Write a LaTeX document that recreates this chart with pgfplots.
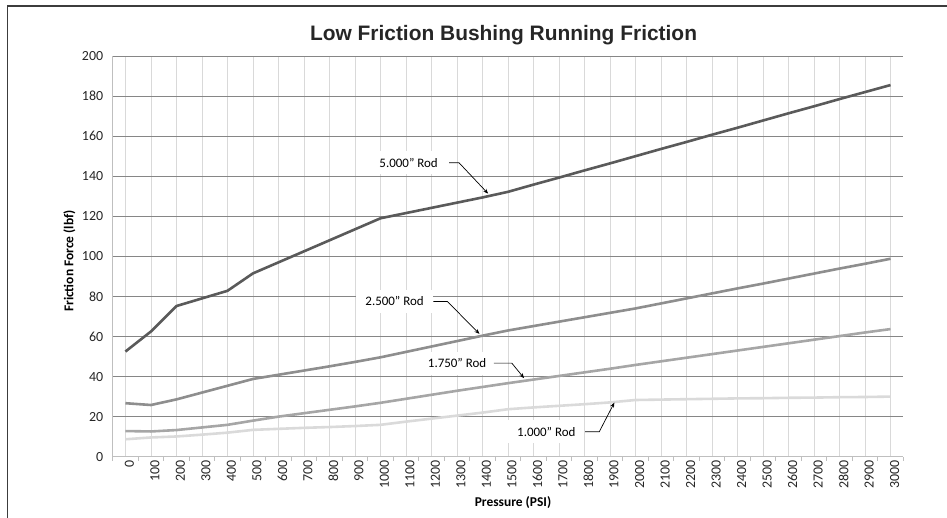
\documentclass[border=0pt]{standalone}
\usepackage{pgfplots}
\pgfplotsset{compat=1.18}
\usetikzlibrary{arrows.meta}
\usepackage{fontspec}
\setmainfont{Carlito}
\newfontfamily\arialfont{Liberation Sans}

\definecolor{rodA}{HTML}{5A5A5A}
\definecolor{rodB}{HTML}{8E8E8E}
\definecolor{rodC}{HTML}{A6A6A6}
\definecolor{rodD}{HTML}{DADADA}
\definecolor{hgrid}{HTML}{868686}
\definecolor{vgrid}{HTML}{D9D9D9}
\definecolor{axline}{HTML}{BFBFBF}
\definecolor{frame}{HTML}{3C3C3C}

\begin{document}
\begin{tikzpicture}
\path[use as bounding box] (0,0) rectangle (947bp,518bp);
\draw[frame, line width=1.5bp] (7.3bp,0) -- (7.3bp,512bp) -- (947bp,512bp);

\node[anchor=base, font=\arialfont\bfseries\fontsize{21}{21}\selectfont, text=black!85]
  at (503.5bp,477.3bp) {Low Friction Bushing Running Friction};
\node[anchor=base, rotate=90, font=\bfseries\fontsize{13.5}{13.5}\selectfont]
  at (73.3bp,257bp) {Friction Force (lbf)};
\node[anchor=base, font=\bfseries\fontsize{13.5}{13.5}\selectfont]
  at (513bp,12bp) {Pressure (PSI)};

\coordinate (O) at (112.7bp,61.3bp);
\begin{axis}[
  at={(O)}, anchor=south west,
  scale only axis, width=790.6bp, height=400.7bp,
  xmin=-50, xmax=3050, ymin=0, ymax=200,
  axis x line*=bottom, axis y line*=left,
  axis line style={axline, line width=0.8bp, -},
  xtick={0,100,...,3000},
  minor xtick={-50,50,...,3050},
  ytick={0,20,...,200},
  major tick length=0pt, minor tick length=4bp,
  tick align=outside,
  minor tick style={axline, line width=0.8bp},
  xmajorgrids, ymajorgrids,
  x grid style={vgrid, line width=0.9bp},
  y grid style={hgrid, line width=0.9bp},
  /pgf/number format/assume math mode=true,
  /pgf/number format/set thousands separator={},
  tick label style={font=\fontsize{14}{14}\selectfont, text=black!85},
  xticklabel style={rotate=90, anchor=east, yshift=-4bp},
  yticklabel style={xshift=-6bp},
  clip=false,
]
% white label boxes
\node[fill=white, anchor=west, inner xsep=9bp, inner ysep=7bp, font=\fontsize{13}{13}\selectfont]
  at (axis cs:960,146.7) {5.000" Rod\hspace{14bp}};
\node[fill=white, anchor=west, inner xsep=9bp, inner ysep=7bp, font=\fontsize{13}{13}\selectfont]
  at (axis cs:905,77.5) {2.500" Rod\hspace{18bp}};
\node[fill=white, anchor=west, inner xsep=9bp, inner ysep=7bp, font=\fontsize{13}{13}\selectfont]
  at (axis cs:1150,46.7) {1.750" Rod\hspace{10bp}};
\node[fill=white, anchor=west, inner xsep=9bp, inner ysep=7bp, font=\fontsize{13}{13}\selectfont]
  at (axis cs:1500,12.5) {1.000" Rod\hspace{0bp}};

\addplot[rodD, line width=2.6bp] table {
0 8.7
100 9.6
200 10.1
300 11
400 12
500 13.4
600 13.9
700 14.4
800 14.8
900 15.3
1000 15.9
1100 17.5
1200 19
1300 20.5
1400 22
1500 23.7
1600 24.6
1700 25.4
1800 26.2
1900 27.1
2000 28.3
2100 28.5
2200 28.7
2300 28.9
2400 29.1
2500 29.2
2600 29.4
2700 29.5
2800 29.7
2900 29.8
3000 30
};
\addplot[rodC, line width=2.6bp] table {
0 12.8
100 12.6
200 13.3
300 14.6
400 15.9
500 18
600 20
700 21.7
800 23.4
900 25.1
1000 26.9
1100 28.9
1200 30.9
1300 32.9
1400 34.8
1500 36.7
1600 38.5
1700 40.3
1800 42.1
1900 43.9
2000 45.8
2100 47.6
2200 49.4
2300 51.2
2400 53
2500 54.8
2600 56.6
2700 58.4
2800 60.2
2900 62
3000 63.7
};
\addplot[rodB, line width=2.6bp] table {
0 26.7
100 25.8
200 28.6
300 32
400 35.4
500 38.8
600 40.9
700 43
800 45.1
900 47.3
1000 49.6
1100 52.3
1200 55
1300 57.7
1400 60.4
1500 63
1600 65.2
1700 67.4
1800 69.6
1900 71.8
2000 74
2100 76.5
2200 79
2300 81.5
2400 84
2500 86.4
2600 88.9
2700 91.4
2800 93.9
2900 96.3
3000 98.8
};
\addplot[rodA, line width=2.6bp] table {
0 52.5
100 62.5
200 75.2
300 79
400 82.8
500 91.5
600 97
700 102.5
800 108
900 113.5
1000 119
1100 121.6
1200 124.2
1300 126.8
1400 129.4
1500 132.2
1600 135.8
1700 139.3
1800 142.9
1900 146.4
2000 150
2100 153.6
2200 157.1
2300 160.7
2400 164.2
2500 167.8
2600 171.4
2700 174.9
2800 178.5
2900 182
3000 185.5
};

% callout lines
\draw[black, line width=0.7bp, -{Stealth[length=5bp,width=4bp]}]
  (axis cs:1269,146.7) -- (axis cs:1308,146.7) -- (axis cs:1422,131.3);
\draw[black, line width=0.7bp, -{Stealth[length=5bp,width=4bp]}]
  (axis cs:1207,77.5) -- (axis cs:1262,77.5) -- (axis cs:1388,61.3);
\draw[black, line width=0.7bp, -{Stealth[length=5bp,width=4bp]}]
  (axis cs:1445,46.7) -- (axis cs:1515,46.7) -- (axis cs:1563,39.2);
\draw[black, line width=0.7bp, -{Stealth[length=5bp,width=4bp]}]
  (axis cs:1802,12.5) -- (axis cs:1858,12.5) -- (axis cs:1917,27);
\end{axis}
\end{tikzpicture}
\end{document}
